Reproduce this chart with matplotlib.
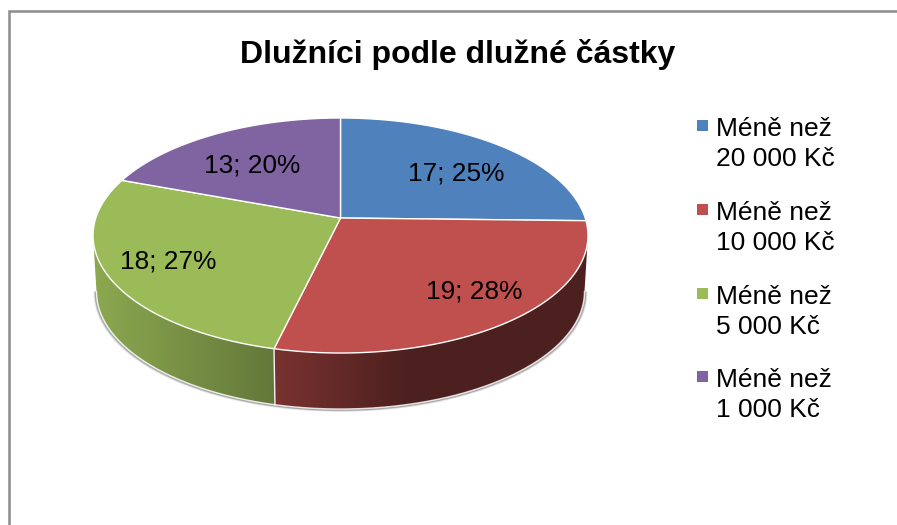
import numpy as np
import matplotlib
matplotlib.use("Agg")
import matplotlib.pyplot as plt
from matplotlib.colors import to_rgb
from matplotlib.patches import Rectangle, Polygon

title = "Dlužníci podle dlužné částky"
categories = ["Méně než\n20 000 Kč", "Méně než\n10 000 Kč", "Méně než\n5 000 Kč", "Méně než\n1 000 Kč"]
values = [17, 19, 18, 13]
percent_labels = ["25%", "28%", "27%", "20%"]

colors = ["#4F81BD", "#C0504D", "#9BBB59", "#8064A2"]
label_xy = [(456, 174), (474, 292), (168, 261), (252, 166)]
legend_y = [144, 228, 312, 395]

plt.rcParams["font.family"] = ["Liberation Sans", "DejaVu Sans"]
fig = plt.figure(figsize=(8.97, 5.25), dpi=100, facecolor="white")
ax = fig.add_axes([0, 0, 1, 1])
ax.set_xlim(0, 897)
ax.set_ylim(525, 0)
ax.axis("off")

# chart frame
ax.plot([9, 9, 897], [525, 10.5, 10.5], color="#8c8c8c", lw=1.8, solid_joinstyle="miter", zorder=1)

# perspective projection of the pie disc
CX, CY, K, A, B, DEPTH = 340.5, 218.0, 0.149, 114.9, 244.7, 56.0
SIL0 = np.arccos(-K)          # where the rim turns out of sight on the right
SIL1 = 2 * np.pi - SIL0       # and on the left

def project(theta, r=1.0, drop=0.0):
    u, v = r * np.sin(theta), r * np.cos(theta)
    s = 1 - 0.014 * (drop > 0)
    return CX + s * B * u / (1 + K * v), CY - A * v / (1 + K * v) + drop

def shade(base, x, slice_index):
    rgb = np.array(to_rgb(base))
    if slice_index == 1:
        t = np.clip((x - 275) / 130, 0, 1)[..., None]
        return rgb * (0.63 * (1 - t) + 0.40 * t)
    t = np.clip((x - 95) / 180, 0, 1)[..., None]
    return rgb * (0.90 * (1 - t) + 0.64 * t)

fractions = np.array(values) / np.sum(values)
edges = 2 * np.pi * np.concatenate([[0], np.cumsum(fractions)])

# soft shadow below the rim
th = np.linspace(SIL0, SIL1, 300)
for off, alpha in [(3.0, 0.07), (2.0, 0.13), (1.0, 0.2)]:
    xs, ys = project(th, drop=DEPTH)
    ax.plot(xs + off * np.sin(th) * 0.6, ys + off * 0.6, color="black", alpha=alpha, lw=1.6, zorder=2)

# visible side wall, a clipped horizontal gradient per slice
for i in range(len(values)):
    a0, a1 = max(edges[i], SIL0), min(edges[i + 1], SIL1)
    if a1 <= a0:
        continue
    steps = np.linspace(a0, a1, 200)
    tx, ty = project(steps)
    bx, by = project(steps, drop=DEPTH)
    poly = np.c_[np.r_[tx, bx[::-1]], np.r_[ty, by[::-1]]]
    patch = Polygon(poly, closed=True, facecolor="none", edgecolor="none", transform=ax.transData)
    ax.add_patch(patch)
    xmin, xmax = poly[:, 0].min() - 2, poly[:, 0].max() + 2
    ymin, ymax = poly[:, 1].min() - 2, poly[:, 1].max() + 2
    grid = np.linspace(xmin, xmax, 400)
    img = shade(colors[i], grid, i)[None, :, :]
    im = ax.imshow(img, extent=(xmin, xmax, ymax, ymin), aspect="auto", zorder=3, interpolation="bilinear")
    im.set_clip_path(patch)
    ax.plot(bx, by, color="white", lw=1.0, alpha=0.8, zorder=4)
ax.set_xlim(0, 897)
ax.set_ylim(525, 0)

# vertical seam between the red and the green wall
sx0, sy0 = project(edges[2])
sx1, sy1 = project(edges[2], drop=DEPTH)
ax.plot([sx0, sx1], [sy0, sy1], color="#f2f2f2", lw=1.0, zorder=4)

# top face
for i in range(len(values)):
    th = np.linspace(edges[i], edges[i + 1], 200)
    x, y = project(th)
    ax.fill(np.r_[CX, x], np.r_[CY, y], facecolor=colors[i], edgecolor="white", lw=1.0,
            joinstyle="round", zorder=5)

for v, p, (lx, ly) in zip(values, percent_labels, label_xy):
    ax.text(lx, ly, f"{v}; {p}", fontsize=18.9, color="black", ha="center", va="center", zorder=6)

ax.text(457.5, 55, title, fontsize=23.0, fontweight="bold", color="black", ha="center", va="center", zorder=6)

for name, col, ly in zip(categories, colors, legend_y):
    ax.add_patch(Rectangle((697, ly - 24), 11, 11, facecolor=col, edgecolor="none", zorder=6))
    ax.text(716, ly, name, fontsize=19.0, color="black", ha="left", va="center", linespacing=1.36, zorder=6)

fig.savefig("out.png", dpi=100)
